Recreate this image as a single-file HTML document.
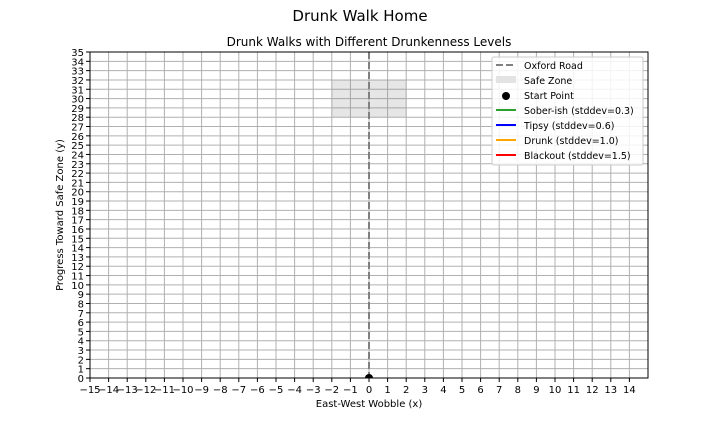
<!DOCTYPE html>
<html><head><meta charset="utf-8"><style>
body{margin:0;background:#fff}
svg{display:block;font-family:"DejaVu Sans","Liberation Sans",sans-serif}
</style></head><body>
<svg id="chart" width="720" height="432"></svg>
<script>
const xTicks=[-15,-14,-13,-12,-11,-10,-9,-8,-7,-6,-5,-4,-3,-2,-1,0,1,2,3,4,5,6,7,8,9,10,11,12,13,14];
const yTicks=[0,1,2,3,4,5,6,7,8,9,10,11,12,13,14,15,16,17,18,19,20,21,22,23,24,25,26,27,28,29,30,31,32,33,34,35];
const safeZone=[-2,2,28,32];
const startPoint=[0,0];
const roadX=[0];
const seriesNames=["Sober-ish (stddev=0.3)","Tipsy (stddev=0.6)","Drunk (stddev=1.0)","Blackout (stddev=1.5)"];
const seriesColors=["#2ca02c","blue","orange","red"];
const soberX=[],soberY=[],tipsyX=[],tipsyY=[],drunkX=[],drunkY=[],blackoutX=[],blackoutY=[];
const seriesX=[soberX,tipsyX,drunkX,blackoutX],seriesY=[soberY,tipsyY,drunkY,blackoutY];

const L=90,R=648,T=52,B=378;
const sx=v=>L+(v+15)/30*(R-L);
const sy=v=>B-v/35*(B-T);
const svg=document.getElementById('chart');
const NS='http://www.w3.org/2000/svg';
function mk(tag,attrs,parent){const e=document.createElementNS(NS,tag);for(const k in attrs)e.setAttribute(k,attrs[k]);(parent||svg).appendChild(e);return e;}
function txt(s,attrs){const e=mk('text',attrs);e.textContent=s;return e;}

const defs=mk('defs',{});
const cp=mk('clipPath',{id:'plotclip'},defs);
mk('rect',{x:L,y:T,width:R-L,height:B-T},cp);

let t=txt('Drunk Walk Home',{x:360,y:21,'text-anchor':'middle','font-size':15});

t=txt('Drunk Walks with Different Drunkenness Levels',{x:369,y:46,'text-anchor':'middle','font-size':12});


const grid=mk('g',{stroke:'#b0b0b0','stroke-width':1});

xTicks.forEach(v=>mk('line',{x1:sx(v),x2:sx(v),y1:T,y2:B},grid));
yTicks.forEach(v=>mk('line',{x1:L,x2:R,y1:sy(v),y2:sy(v)},grid));

let r=mk('rect',{x:sx(safeZone[0]),y:sy(safeZone[3]),width:sx(safeZone[1])-sx(safeZone[0]),height:sy(safeZone[2])-sy(safeZone[3]),fill:'#808080','fill-opacity':0.2});


roadX.forEach(v=>{const l=mk('line',{x1:sx(v),x2:sx(v),y1:T,y2:B,stroke:'#808080','stroke-width':2,'stroke-dasharray':'7,3'});
});

seriesX.forEach((xs,i)=>{if(!xs.length)return;const p=mk('polyline',{points:xs.map((x,j)=>sx(x)+','+sy(seriesY[i][j])).join(' '),fill:'none',stroke:seriesColors[i],'stroke-width':1.5,'clip-path':'url(#plotclip)'});
});

let c=mk('circle',{cx:sx(startPoint[0]),cy:sy(startPoint[1]),r:4,fill:'#000','clip-path':'url(#plotclip)'});


let ax=mk('rect',{x:L,y:T,width:R-L,height:B-T,fill:'none',stroke:'#000','stroke-width':1});


xTicks.forEach(v=>{mk('line',{x1:sx(v),x2:sx(v),y1:B,y2:B+4,stroke:'#000'});
const e=txt(String(v).replace('-','\u2212'),{x:sx(v),y:B+15,'text-anchor':'middle','font-size':10});
});
yTicks.forEach(v=>{mk('line',{x1:L-4,x2:L,y1:sy(v),y2:sy(v),stroke:'#000'});
const e=txt(String(v),{x:L-6,y:sy(v)+4,'text-anchor':'end','font-size':10});
});

t=txt('East-West Wobble (x)',{x:369,y:407,'text-anchor':'middle','font-size':10});

t=txt('Progress Toward Safe Zone (y)',{x:0,y:0,'text-anchor':'middle','font-size':10,transform:'translate(63,215) rotate(-90)'});


const lg=mk('g',{});

mk('rect',{x:492,y:57,width:151,height:108,fill:'#fff','fill-opacity':0.85,stroke:'#ccc',rx:2},lg);
const rowY=[65,80,95,110,125,140,155];
const labels=['Oxford Road','Safe Zone','Start Point'].concat(seriesNames);
labels.forEach((s,i)=>{const y=rowY[i];
 if(i===0)mk('line',{x1:496,x2:516,y1:y,y2:y,stroke:'#808080','stroke-width':2,'stroke-dasharray':'7,3'},lg);
 else if(i===1)mk('rect',{x:496,y:y-4,width:20,height:7,fill:'#e3e3e3'},lg);
 else if(i===2)mk('circle',{cx:506,cy:y+1,r:4,fill:'#000'},lg);
 else mk('line',{x1:496,x2:516,y1:y,y2:y,stroke:seriesColors[i-3],'stroke-width':2},lg);
 const e=mk('text',{x:524,y:y+4,'font-size':9.5},lg);e.textContent=s;
 });
</script>
</body></html>
